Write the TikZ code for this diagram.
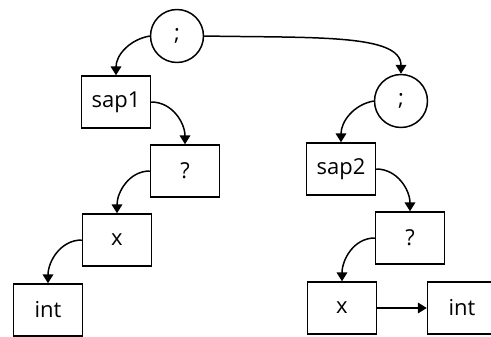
\documentclass[tikz,border=0pt]{standalone}
\usepackage{fontspec}
\setmainfont{Open Sans}
\usetikzlibrary{arrows.meta}
\tikzset{
  termbox/.style={draw, line width=0.85pt, minimum width=1.38cm, minimum height=1.04cm, inner sep=0pt},
  seqnode/.style={draw, circle, line width=0.85pt, minimum size=1.06cm, inner sep=0pt},
  link/.style={line width=0.85pt, -{Triangle[length=5pt,width=6pt]}}
}
\begin{document}
\begin{tikzpicture}[x=0.02cm,y=0.02cm,font=\fontsize{12.5}{14}\selectfont]
        \useasboundingbox (0,0) rectangle (491,336);
        % left branch
        \node[seqnode] (semiA) at (177,300) {;};
        \node[termbox] (sapA) at (116,234) {sap1};
        \node[termbox] (queryA) at (185,165) {?};
        \node[termbox] (varA) at (117,96) {x};
        \node[termbox] (intA) at (48,26) {int};
        % right branch
        \node[seqnode] (semiB) at (401,235) {;};
        \node[termbox] (sapB) at (341,167) {sap2};
        \node[termbox] (queryB) at (410,98) {?};
        \node[termbox] (varB) at (342,28) {x};
        \node[termbox] (intB) at (462,28) {int};
        % connectors
        \draw[link] (semiA.west) to[out=190,in=90] (sapA.north);
        \draw[link] (semiA.east) .. controls +(110,-2) and +(0,40) .. (semiB.north);
        \draw[link] (sapA.east) to[out=0,in=90] (queryA.north);
        \draw[link] (queryA.west) to[out=180,in=90] (varA.north);
        \draw[link] (varA.west) to[out=180,in=90] (intA.north);
        \draw[link] (semiB.west) to[out=190,in=90] (sapB.north);
        \draw[link] (sapB.east) to[out=0,in=90] (queryB.north);
        \draw[link] (queryB.west) to[out=180,in=90] (varB.north);
        \draw[link] (varB.east) -- (intB.west);
      \end{tikzpicture}
\end{document}
